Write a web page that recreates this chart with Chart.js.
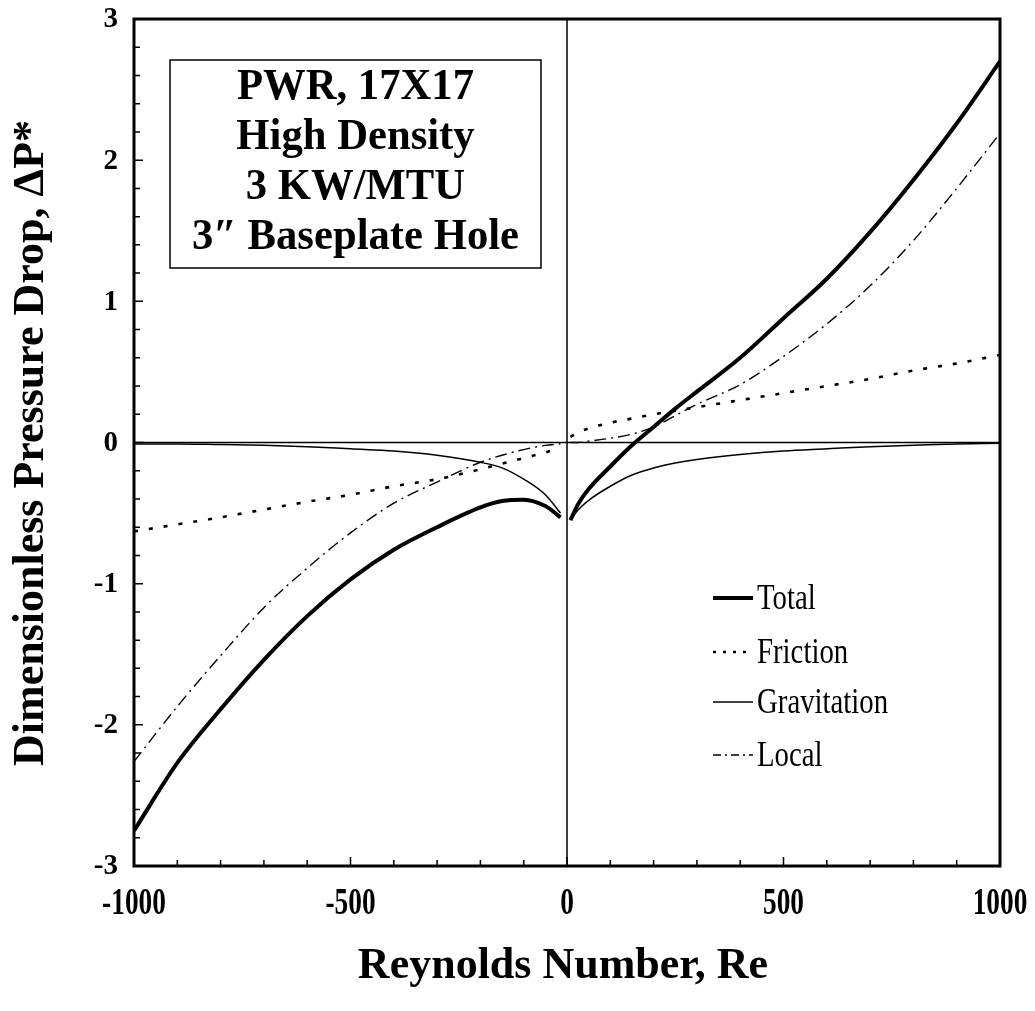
<!DOCTYPE html>
<html>
<head>
<meta charset="utf-8">
<script src="https://cdn.jsdelivr.net/npm/chart.js@4.4.1/dist/chart.umd.min.js"></script>
<style>
  html, body { margin: 0; padding: 0; background: #ffffff; }
  #wrap { width: 1035px; height: 1011px; }
</style>
</head>
<body>
<div id="wrap"><canvas id="c" width="1035" height="1011"></canvas></div>
<script>
// ---- Data ----
const reLeft  = [-1000, -900, -800, -700, -600, -500, -400, -300, -200, -150, -100, -50, -15];
const reRight = [8, 25, 50, 100, 150, 200, 250, 300, 400, 500, 600, 700, 800, 900, 1000];

const totalLeft  = [-2.75, -2.27, -1.89, -1.54, -1.23, -0.97, -0.76, -0.60, -0.46, -0.415, -0.405, -0.45, -0.53];
const totalRight = [-0.55, -0.44, -0.33, -0.17, -0.02, 0.11, 0.24, 0.36, 0.60, 0.88, 1.16, 1.49, 1.86, 2.26, 2.70];

const frictionLeft  = [-0.63, -0.58, -0.53, -0.475, -0.42, -0.37, -0.31, -0.26, -0.19, -0.15, -0.11, -0.07, -0.04];
const frictionRight = [0.04, 0.07, 0.10, 0.14, 0.17, 0.20, 0.225, 0.25, 0.30, 0.35, 0.40, 0.45, 0.51, 0.56, 0.62];

const gravLeft  = [-0.01, -0.01, -0.015, -0.02, -0.03, -0.045, -0.06, -0.09, -0.14, -0.18, -0.26, -0.37, -0.50];
const gravRight = [-0.55, -0.48, -0.41, -0.31, -0.23, -0.18, -0.145, -0.12, -0.085, -0.06, -0.045, -0.03, -0.02, -0.01, -0.005];

const localLeft  = [-2.26, -1.87, -1.51, -1.17, -0.89, -0.64, -0.43, -0.28, -0.14, -0.09, -0.05, -0.02, -0.01];
const localRight = [0.0, 0.0, 0.01, 0.03, 0.06, 0.11, 0.19, 0.27, 0.41, 0.61, 0.84, 1.11, 1.43, 1.80, 2.19];

const seriesNames = ["Total", "Friction", "Gravitation", "Local"];
const xTickLabels = ["-1000", "-500", "0", "500", "1000"];
const xTickValues = [-1000, -500, 0, 500, 1000];
const yTickValues = [3, 2, 1, 0, -1, -2, -3];
const boxLines = ["PWR, 17X17", "High Density", "3 KW/MTU", "3\u2033 Baseplate Hole"];
const xTitle = "Reynolds Number, Re";
const yTitle = "Dimensionless Pressure Drop, \u0394P*";

// ---- Build point lists (gap at Re = 0) ----
function build(left, right) {
  const pts = [];
  reLeft.forEach((r, i) => pts.push({ x: r, y: left[i] }));
  pts.push({ x: 0, y: null });
  reRight.forEach((r, i) => pts.push({ x: r, y: right[i] }));
  return pts;
}

const styles = [
  { width: 4,   dash: [] },
  { width: 2.6, dash: [4, 11] },
  { width: 1.5, dash: [] },
  { width: 1.4, dash: [12, 5, 2, 5] }
];

const SERIF = '"Liberation Serif", "Times New Roman", serif';

function condText(ctx, text, x, y, sx, align) {
  ctx.save();
  ctx.translate(x, y);
  ctx.scale(sx, 1);
  ctx.textAlign = align;
  ctx.fillText(text, 0, 0);
  ctx.restore();
}

const framePlugin = {
  id: 'frame',
  beforeDatasetsDraw(chart) {
    const { ctx, chartArea: a, scales: { x, y } } = chart;
    ctx.save();
    ctx.strokeStyle = '#000';
    ctx.lineWidth = 1.5;
    const x0 = x.getPixelForValue(0), y0 = y.getPixelForValue(0);
    ctx.beginPath();
    ctx.moveTo(x0, a.top); ctx.lineTo(x0, a.bottom);
    ctx.moveTo(a.left, y0); ctx.lineTo(a.right, y0);
    ctx.stroke();
    ctx.restore();
  },
  afterDraw(chart) {
    const { ctx, chartArea: a, scales: { x, y } } = chart;
    ctx.save();
    ctx.fillStyle = '#000';
    ctx.strokeStyle = '#000';
    // frame
    ctx.lineWidth = 3;
    ctx.strokeRect(a.left, a.top, a.right - a.left, a.bottom - a.top);
    // y ticks (inside, every 0.2)
    ctx.lineWidth = 1.5;
    ctx.beginPath();
    for (let k = -15; k <= 15; k++) {
      const py = y.getPixelForValue(k / 5);
      const len = (k % 5 === 0) ? 9 : 6;
      ctx.moveTo(a.left, py); ctx.lineTo(a.left + len, py);
    }
    // x ticks (inside, every 100)
    for (let k = -10; k <= 10; k++) {
      const px = x.getPixelForValue(k * 100);
      const len = (k % 5 === 0) ? 9 : 6;
      ctx.moveTo(px, a.bottom); ctx.lineTo(px, a.bottom - len);
    }
    ctx.stroke();

    // y tick labels
    ctx.font = 'bold 29px ' + SERIF;
    ctx.textBaseline = 'middle';
    yTickValues.forEach(v => {
      condText(ctx, String(v), 118, y.getPixelForValue(v) + 1, 1.0, 'right');
    });
    // x tick labels (condensed)
    ctx.font = 'bold 38px ' + SERIF;
    ctx.textBaseline = 'alphabetic';
    xTickValues.forEach((v, i) => {
      condText(ctx, xTickLabels[i], x.getPixelForValue(v), 914, 0.72, 'center');
    });
    // axis titles
    ctx.font = 'bold 44px ' + SERIF;
    ctx.textAlign = 'center';
    ctx.fillText(xTitle, 563, 978);
    ctx.save();
    ctx.translate(43, 443);
    ctx.rotate(-Math.PI / 2);
    ctx.textAlign = 'center';
    ctx.fillText(yTitle, 0, 0);
    ctx.restore();

    // annotation box
    ctx.lineWidth = 1.5;
    ctx.strokeRect(170, 60, 371, 208);
    ctx.font = 'bold 44px ' + SERIF;
    const bl = [99, 149, 199, 249];
    boxLines.forEach((t, i) => condText(ctx, t, 355.5, bl[i], 0.97, 'center'));

    // legend
    const rows = [598, 652, 702, 755];
    ctx.font = '36px ' + SERIF;
    ctx.textBaseline = 'middle';
    seriesNames.forEach((n, i) => {
      const s = styles[i];
      ctx.save();
      ctx.lineWidth = s.width;
      ctx.setLineDash(s.dash.length ? (i === 1 ? [3, 7] : [8, 4, 2, 4]) : []);
      ctx.beginPath();
      ctx.moveTo(713, rows[i]); ctx.lineTo(753, rows[i]);
      ctx.stroke();
      ctx.restore();
      condText(ctx, n, 757, rows[i] + 2, 0.8, 'left');
    });
    ctx.restore();
  }
};

const seriesData = [
  build(totalLeft, totalRight),
  build(frictionLeft, frictionRight),
  build(gravLeft, gravRight),
  build(localLeft, localRight)
];

new Chart(document.getElementById('c'), {
  type: 'line',
  data: {
    datasets: seriesNames.map((n, i) => ({
      label: n,
      data: seriesData[i],
      borderColor: '#000',
      backgroundColor: '#000',
      borderWidth: styles[i].width,
      borderDash: styles[i].dash,
      pointRadius: 0,
      fill: false,
      spanGaps: false,
      cubicInterpolationMode: 'monotone'
    }))
  },
  options: {
    responsive: false,
    animation: false,
    devicePixelRatio: 1,
    layout: { padding: { left: 134, top: 19, right: 35, bottom: 145 } },
    plugins: { legend: { display: false }, tooltip: { enabled: false }, title: { display: false } },
    scales: {
      x: { type: 'linear', min: -1000, max: 1000,
           ticks: { display: false }, grid: { display: false, drawTicks: false }, border: { display: false } },
      y: { type: 'linear', min: -3, max: 3,
           ticks: { display: false }, grid: { display: false, drawTicks: false }, border: { display: false } }
    }
  },
  plugins: [framePlugin]
});
</script>
</body>
</html>
